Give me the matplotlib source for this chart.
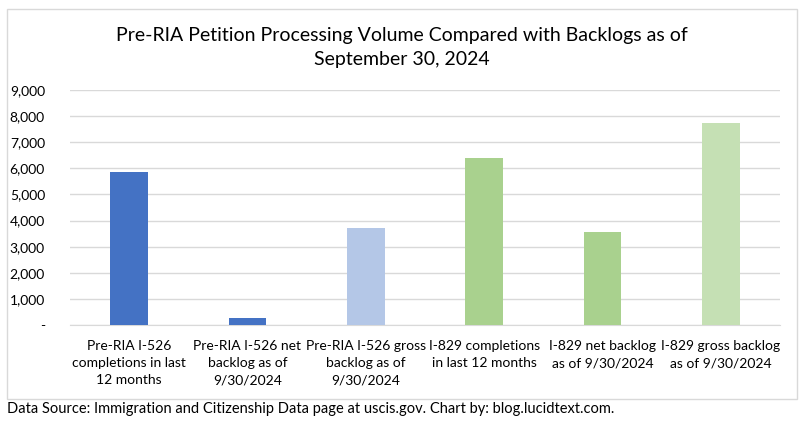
import matplotlib
matplotlib.use("Agg")
import matplotlib.pyplot as plt
from matplotlib.patches import Rectangle
from matplotlib.ticker import FuncFormatter

categories = [
    "Pre-RIA I-526\ncompletions in last\n12 months",
    "Pre-RIA I-526 net\nbacklog as of\n9/30/2024",
    "Pre-RIA I-526 gross\nbacklog as of\n9/30/2024",
    "I-829 completions\nin last 12 months",
    "I-829 net backlog\nas of 9/30/2024",
    "I-829 gross backlog\nas of 9/30/2024",
]
values = [5860, 270, 3720, 6400, 3560, 7740]
colors = ["#4472C4", "#4472C4", "#B4C7E7", "#A9D18E", "#A9D18E", "#C5E0B4"]
yticks = [0, 1000, 2000, 3000, 4000, 5000, 6000, 7000, 8000, 9000]
title = "Pre-RIA Petition Processing Volume Compared with Backlogs as of\nSeptember 30, 2024"
footer = "Data Source: Immigration and Citizenship Data page at uscis.gov. Chart by: blog.lucidtext.com."

plt.rcParams['font.family'] = ['Lato', 'DejaVu Sans']
W, H = 804, 423
fig = plt.figure(figsize=(W / 100, H / 100), dpi=100)
fig.patch.set_facecolor("white")

# chart frame
fig.patches.append(Rectangle((7 / W, 1 - 399 / H), 790 / W, 390 / H, transform=fig.transFigure,
                             fill=False, edgecolor="#D9D9D9", linewidth=1))

ax = fig.add_axes([70 / W, 1 - 325 / H, 710 / W, 235 / H])
x = list(range(len(categories)))
ax.bar(x, values, width=0.32, color=colors, zorder=3)
ax.set_xlim(-0.5, len(categories) - 0.5)
ax.set_ylim(0, 9000)
ax.set_yticks(yticks)
ax.yaxis.set_major_formatter(FuncFormatter(lambda v, p: "-" if v == 0 else f"{int(v):,}"))
ax.grid(axis="y", color="#D9D9D9", linewidth=1, zorder=0)
for s in ["top", "right", "left"]:
    ax.spines[s].set_visible(False)
ax.spines["bottom"].set_color("#D9D9D9")
ax.tick_params(axis="both", length=0, colors="#000000")
ax.tick_params(axis="y", pad=18, labelsize=10)
ax.set_xticks(x)
ax.set_xticklabels(categories, fontsize=10, linespacing=1.5)
ax.tick_params(axis="x", pad=11)

fig.text(0.5, 1 - 47 / H, title, ha="center", va="center", fontsize=14, linespacing=1.5)
fig.text(7 / W, 1 - 409 / H, footer, ha="left", va="center", fontsize=10.5)

fig.savefig("out.png", dpi=100)
